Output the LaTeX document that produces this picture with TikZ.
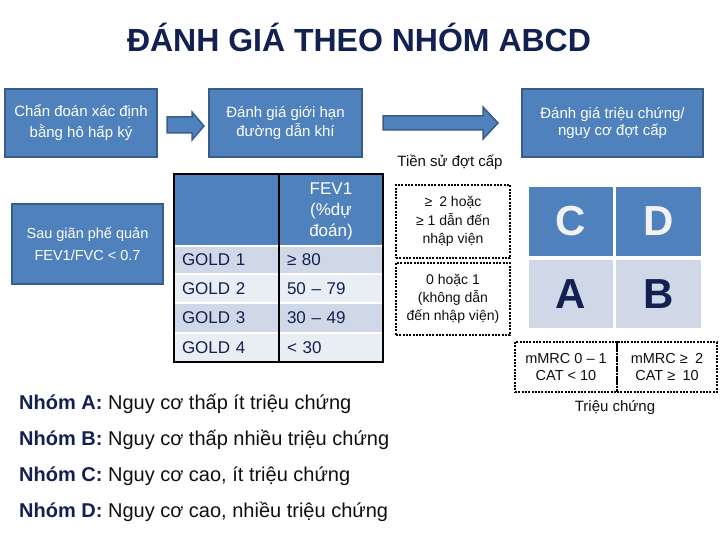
\documentclass[tikz,border=0pt]{standalone}
\usepackage{fontspec}
\setmainfont{Liberation Sans}
\usetikzlibrary{calc}
\definecolor{offblue}{RGB}{79,129,189}
\definecolor{offblueD}{RGB}{56,93,138}
\definecolor{rowA}{RGB}{208,216,232}
\definecolor{rowB}{RGB}{233,237,244}
\definecolor{navy}{RGB}{18,32,82}
\definecolor{lettre}{RGB}{242,242,242}
\definecolor{ink}{RGB}{15,15,15}
\begin{document}
\begin{tikzpicture}[x=1pt,y=-1pt,
  bluebox/.style={draw=offblueD, line width=2pt, fill=offblue, text=white, align=center, inner sep=0pt},
  blockarrow/.style={draw=offblueD, line width=1.5pt, fill=offblue, line join=miter},
  dotbox/.style={draw=black, line width=2.8pt, dash pattern=on 2pt off 1.3pt, align=center, inner sep=0pt, text=ink},
  cell/.style={inner sep=0pt, draw=none, text=navy, font=\fontsize{17}{21}\selectfont},
  quad/.style={inner sep=0pt, draw=none, minimum width=84pt, minimum height=69pt, font=\fontsize{42}{42}\selectfont\bfseries},
  legend/.style={anchor=base west, inner sep=0pt, text=ink, font=\fontsize{20}{24}\selectfont},
  plain/.style={anchor=base, inner sep=0pt, text=ink, font=\fontsize{15}{18}\selectfont}
]
\useasboundingbox (0,0) rectangle (720,540);

% title
\node[anchor=base, inner sep=0pt, text=navy, font=\fontsize{32}{36}\selectfont\bfseries] (title) at (359,52) {ĐÁNH GIÁ THEO NHÓM ABCD};

% top boxes
\node[bluebox, minimum width=152pt, minimum height=68pt, font=\fontsize{15}{21}\selectfont] (b1) at (81,123) {Chẩn đoán xác định\\bằng hô hấp ký};
\node[bluebox, minimum width=153pt, minimum height=68pt, font=\fontsize{15}{19}\selectfont] (b2) at (285.5,123) {Đánh giá giới hạn\\đường dẫn khí};
\node[bluebox, minimum width=181pt, minimum height=68pt, font=\fontsize{15}{17.5}\selectfont] (b3) at (612.5,123) {Đánh giá triệu chứng/\\nguy cơ đợt cấp};

% block arrows
\draw[blockarrow] (167,117) -- (192,117) -- (192,112) -- (204,126) -- (192,140) -- (192,133) -- (167,133) -- cycle;
\draw[blockarrow] (383,116) -- (483,116) -- (483,107) -- (498,123) -- (483,139) -- (483,130) -- (383,130) -- cycle;

\node[plain] (tien) at (450,167) {Tiền sử đợt cấp};

% spirometry box
\node[bluebox, minimum width=151pt, minimum height=80pt, font=\fontsize{14.5}{22}\selectfont] (b4) at (87.5,244) {Sau giãn phế quản\\FEV1/FVC < 0.7};

% table
\node[cell, fill=offblue, minimum width=105pt, minimum height=72pt] (h1) at (226.5,210) {};
\node[cell, fill=offblue, minimum width=104pt, minimum height=72pt, text=white, align=center] (h2) at (331,211) {FEV1\\(\%dự\\đoán)};
\node[cell, fill=rowA, minimum width=105pt, minimum height=28pt, text width=89pt, align=left] (g1) at (226.5,260) {GOLD 1};
\node[cell, fill=rowA, minimum width=104pt, minimum height=28pt, text width=88pt, align=left] (v1) at (331,260) {≥ 80};
\node[cell, fill=rowB, minimum width=105pt, minimum height=29pt, text width=89pt, align=left] (g2) at (226.5,288.5) {GOLD 2};
\node[cell, fill=rowB, minimum width=104pt, minimum height=29pt, text width=88pt, align=left] (v2) at (331,288.5) {50 – 79};
\node[cell, fill=rowA, minimum width=105pt, minimum height=30pt, text width=89pt, align=left] (g3) at (226.5,318) {GOLD 3};
\node[cell, fill=rowA, minimum width=104pt, minimum height=30pt, text width=88pt, align=left] (v3) at (331,318) {30 – 49};
\node[cell, fill=rowB, minimum width=105pt, minimum height=29pt, text width=89pt, align=left] (g4) at (226.5,347.5) {GOLD 4};
\node[cell, fill=rowB, minimum width=104pt, minimum height=29pt, text width=88pt, align=left] (v4) at (331,347.5) {< 30};
\foreach \yy in {246,274,303,333} \draw[white, line width=2pt] (174,\yy) -- (383,\yy);
\draw[black, line width=2pt] (279,174) -- (279,362);
\draw[black, line width=2.5pt] (174,174) rectangle (383,362);

% exacerbation history boxes
\node[dotbox, minimum width=114pt, minimum height=73pt, font=\fontsize{14}{18.5}\selectfont] (e1) at (453,221.5) {≥\enspace 2 hoặc\\≥ 1 dẫn đến\\nhập viện};
\node[dotbox, minimum width=114pt, minimum height=72pt, font=\fontsize{14}{18}\selectfont] (e2) at (453,299) {0 hoặc 1\\(không dẫn\\đến nhập viện)};

% ABCD grid
\node[quad, fill=offblue, text=lettre] (qC) at (571,221.5) {C};
\node[quad, fill=offblue, text=lettre, minimum width=85pt] (qD) at (658.5,221.5) {D};
\node[quad, fill=rowA, text=navy, minimum height=68pt] (qA) at (571,294) {A};
\node[quad, fill=rowA, text=navy, minimum width=85pt, minimum height=68pt] (qB) at (658.5,294) {B};

% symptom boxes
\node[dotbox, minimum width=102pt, minimum height=50pt, font=\fontsize{14.5}{16.5}\selectfont] (s1) at (566,367) {mMRC 0 – 1\\CAT < 10};
\node[dotbox, minimum width=100pt, minimum height=50pt, font=\fontsize{14.5}{16.5}\selectfont] (s2) at (667,367) {mMRC ≥\enspace 2\\CAT ≥\enspace 10};
\node[plain] (trieu) at (615,411) {Triệu chứng};

% legend
\node[legend] (nA) at (19,409) {\textbf{\color{navy}Nhóm A:} Nguy cơ thấp ít triệu chứng};
\node[legend] (nB) at (19,445) {\textbf{\color{navy}Nhóm B:} Nguy cơ thấp nhiều triệu chứng};
\node[legend] (nC) at (19,481) {\textbf{\color{navy}Nhóm C:} Nguy cơ cao, ít triệu chứng};
\node[legend] (nD) at (19,517) {\textbf{\color{navy}Nhóm D:} Nguy cơ cao, nhiều triệu chứng};
\end{tikzpicture}
\end{document}
